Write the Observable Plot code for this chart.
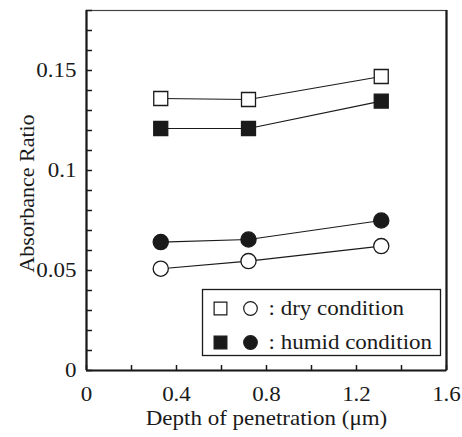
<!DOCTYPE html>
<html>
<head>
<meta charset="utf-8">
<script src="https://cdn.jsdelivr.net/npm/d3@7"></script>
<script src="https://cdn.jsdelivr.net/npm/@observablehq/plot@0.6"></script>
<style>
  html, body { margin: 0; padding: 0; background: #fff; }
  #chart { width: 462px; height: 437px; }
</style>
</head>
<body>
<div id="chart"></div>
<script>
// ---- data ----
const depth = [0.33, 0.72, 1.31];
const drySquare   = [0.136, 0.1355, 0.147];
const humidSquare = [0.121, 0.121, 0.1347];
const humidCircle = [0.0642, 0.0655, 0.075];
const dryCircle   = [0.0509, 0.0547, 0.0622];

const xDomain = [0, 1.6];
const yDomain = [0, 0.18];
const xMajor = [0, 0.4, 0.8, 1.2, 1.6];
const xMinor = [0, 0.2, 0.4, 0.6, 0.8, 1.0, 1.2, 1.4, 1.6];
const yMajor = [0, 0.05, 0.1, 0.15];
const yMinor = [0, 0.01, 0.02, 0.03, 0.04, 0.05, 0.06, 0.07, 0.08, 0.09, 0.1, 0.11, 0.12, 0.13, 0.14, 0.15, 0.16, 0.17, 0.18];

const xTitle = "Depth of penetration (\u03bcm)";
const yTitle = "Absorbance Ratio";
const legendLabels = [": dry condition", ": humid condition"];

// ---- build series ----
const series = [
  {name: "dry square",   values: drySquare,   symbol: "square", filled: false},
  {name: "humid square", values: humidSquare, symbol: "square", filled: true},
  {name: "humid circle", values: humidCircle, symbol: "circle", filled: true},
  {name: "dry circle",   values: dryCircle,   symbol: "circle", filled: false}
];
const ink = "#1a1a1a";
const sizeOf = s => s === "square" ? 7.9 : 7.6;

const marks = [];
for (const s of series) {
  const rows = depth.map((d, i) => ({x: d, y: s.values[i]}));
  marks.push(Plot.line(rows, {x: "x", y: "y", stroke: ink, strokeWidth: 1.1}));
}
for (const s of series) {
  const rows = depth.map((d, i) => ({x: d, y: s.values[i]}));
  marks.push(Plot.dot(rows, {x: "x", y: "y", symbol: s.symbol, r: sizeOf(s.symbol),
    fill: s.filled ? ink : "white", stroke: ink, strokeWidth: 1.3}));
}

// legend inside the frame
const legendRows = [
  {label: legendLabels[0], filled: false, dy: -62},
  {label: legendLabels[1], filled: true,  dy: -28}
];
const legendMarks = [
  Plot.frame({insetLeft: 116, insetRight: 6, insetTop: 279, insetBottom: 15, stroke: ink, strokeWidth: 1.3})
];
for (const r of legendRows) {
  legendMarks.push(Plot.dot([r.label], {frameAnchor: "bottom-left", dx: 134, dy: r.dy, symbol: "square", r: 7.2,
    fill: r.filled ? ink : "white", stroke: ink, strokeWidth: 1.2}));
  legendMarks.push(Plot.dot([r.label], {frameAnchor: "bottom-left", dx: 164, dy: r.dy, symbol: "circle", r: 6.8,
    fill: r.filled ? ink : "white", stroke: ink, strokeWidth: 1.2}));
  legendMarks.push(Plot.text([r.label], {frameAnchor: "bottom-left", dx: 182, dy: r.dy, text: d => d,
    textAnchor: "start", lineAnchor: "middle", fontSize: 20, fill: ink}));
}

const chart = Plot.plot({
  width: 462,
  height: 437,
  marginLeft: 86,
  marginRight: 16,
  marginTop: 10,
  marginBottom: 67,
  style: {fontFamily: "'Liberation Serif', 'Times New Roman', serif", fontSize: "20px", color: ink, background: "white"},
  x: {domain: xDomain},
  y: {domain: yDomain},
  marks: [
    Plot.frame({stroke: "#444", strokeWidth: 1.2}),
    Plot.ruleX([xDomain[0]], {stroke: ink, strokeWidth: 2.2}),
    Plot.ruleX([xDomain[1]], {stroke: ink, strokeWidth: 2.2}),
    Plot.ruleY([yDomain[0]], {stroke: ink, strokeWidth: 2.2}),
    Plot.axisY({ticks: yMinor, tickSize: -6, text: null, label: null, stroke: ink, strokeWidth: 1.5}),
    Plot.axisY({ticks: yMajor, tickSize: 0, tickPadding: 10, tickFormat: d => String(d), label: null, fontSize: 20, fill: ink}),
    Plot.axisX({ticks: xMinor, tickSize: -5, text: null, label: null, stroke: ink, strokeWidth: 1.5}),
    Plot.axisX({ticks: xMajor, tickSize: 0, tickPadding: 16, tickFormat: d => String(d), label: null, fontSize: 20, fill: ink}),
    Plot.text([yTitle], {frameAnchor: "left", dx: -60, dy: 3, rotate: -90, text: d => d, textAnchor: "middle", lineAnchor: "middle", fontSize: 22, fill: ink}),
    Plot.text([xTitle], {frameAnchor: "bottom", dy: 48, text: d => d, textAnchor: "middle", lineAnchor: "middle", fontSize: 20, fill: ink}),
    ...marks,
    ...legendMarks
  ]
});
document.getElementById("chart").appendChild(chart);

// the reference typeface is set wide: widen horizontal texts about their anchor
const stretch = 1.15;
chart.querySelectorAll("text").forEach(t => {
  const tr = t.getAttribute("transform") || "";
  if (/rotate/.test(tr)) return;
  const b = t.getBBox();
  const anchor = getComputedStyle(t).textAnchor;
  const cx = anchor === "start" ? b.x : anchor === "end" ? b.x + b.width : b.x + b.width / 2;
  t.setAttribute("transform", `${tr} translate(${cx},0) scale(${stretch},1) translate(${-cx},0)`.trim());
});
</script>
</body>
</html>
